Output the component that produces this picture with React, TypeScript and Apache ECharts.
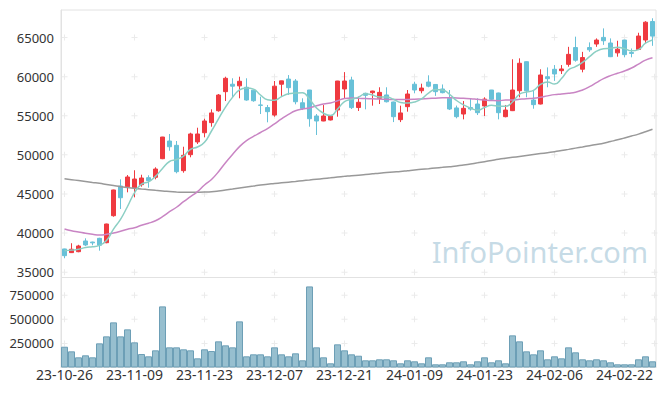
import { useEffect, useRef } from 'react';
import * as echarts from 'echarts';

const dates = [
  '23-10-26','23-10-27','23-10-30','23-10-31','23-11-01','23-11-02','23-11-03','23-11-06','23-11-07','23-11-08',
  '23-11-09','23-11-10','23-11-13','23-11-14','23-11-15','23-11-16','23-11-17','23-11-20','23-11-21','23-11-22',
  '23-11-23','23-11-24','23-11-27','23-11-28','23-11-29','23-11-30','23-12-01','23-12-04','23-12-05','23-12-06',
  '23-12-07','23-12-08','23-12-11','23-12-12','23-12-13','23-12-14','23-12-15','23-12-18','23-12-19','23-12-20',
  '23-12-21','23-12-22','23-12-26','23-12-27','23-12-28','24-01-02','24-01-03','24-01-04','24-01-05','24-01-08',
  '24-01-09','24-01-10','24-01-11','24-01-12','24-01-15','24-01-16','24-01-17','24-01-18','24-01-19','24-01-22',
  '24-01-23','24-01-24','24-01-25','24-01-26','24-01-29','24-01-30','24-01-31','24-02-01','24-02-02','24-02-05',
  '24-02-06','24-02-07','24-02-08','24-02-13','24-02-14','24-02-15','24-02-16','24-02-19','24-02-20','24-02-21',
  '24-02-22','24-02-23','24-02-26','24-02-27','24-02-28',
];

const opens = [
  37970,37500,37620,38990,38850,39330,38770,42220,46020,45930,
  45800,46190,47080,47130,49510,51770,51220,47980,50020,51650,
  52830,54120,55640,58080,59030,58820,58640,58270,56380,56050,
  55090,59030,59690,59440,56660,58290,54970,54330,54460,55730,
  58420,59570,56050,57870,57950,57230,57660,56760,54500,56160,
  59030,58200,59310,59000,58420,57230,56000,55220,56050,56500,
  56250,58290,57910,54880,55650,58200,61910,57010,56500,59990,
  60940,60760,61570,63720,60950,63720,64170,65020,64300,63040,
  64680,63090,63470,64680,67050,
];
const closes = [
  37110,37930,38350,38480,38750,38440,41160,45510,44520,47170,
  46910,47040,46700,48190,52280,51040,47850,49940,52670,52670,
  54330,55360,57650,59790,58780,59410,57010,56920,56330,55520,
  58780,59460,58590,56790,55940,54620,54330,54970,54970,59440,
  59440,56040,56720,57610,58160,57990,56790,54880,55360,57780,
  58290,58540,58780,58080,57950,55860,54880,55950,55860,55390,
  57130,57100,55390,55730,58290,61710,58200,56420,60210,59740,
  60340,60980,62850,62100,62440,63430,64680,64590,62550,63510,
  62810,62970,65190,66960,65180,
];
const lows = [
  36780,37450,37550,38350,38440,37750,38700,42090,43080,45210,
  44570,45930,45800,46870,49450,50530,47640,47720,49690,51390,
  52240,53600,55520,56880,57360,57230,56920,56790,55220,54160,
  54880,57540,57660,56460,55730,53600,52540,54300,54400,54880,
  57230,55860,55610,55820,56290,56500,56700,54190,54190,55520,
  57870,57870,58640,57540,57870,55730,54670,54540,55650,55090,
  54970,56950,54540,54800,55600,57360,57360,55900,56450,58640,
  59460,60340,61270,61910,60550,63170,63810,64060,62500,62550,
  62470,62470,63400,64250,63940,
];
const highs = [
  38000,38700,38500,39330,38900,39400,41200,45550,46870,47420,
  48030,47460,47390,48410,52300,52670,51770,51040,52830,53470,
  54620,55820,57780,59990,59790,59990,59790,58300,57440,56380,
  59440,59480,60200,59690,57230,58300,55220,56370,55000,59460,
  60580,59990,57440,57950,58200,58640,58640,56800,56290,58290,
  59350,59100,60170,59050,59000,58290,56300,56880,57230,57230,
  57360,58300,57950,56380,62220,62340,61950,58200,60940,61180,
  61480,61480,63810,65110,63170,64380,64890,66170,64890,64590,
  64700,63600,65610,67090,67460,
];
const volumes = [
  215800,168000,105800,126600,105800,251000,323600,468900,323600,396300,
  261400,140000,116200,178400,634900,209500,209500,188800,178400,95400,
  188800,171200,271800,230300,209500,479300,116200,136900,136900,116200,
  209500,136900,116200,147300,74700,842300,209500,105800,43600,240700,
  178400,136900,122400,74700,74700,85100,85100,74700,43600,74700,
  64300,43600,105800,33200,33200,53900,53900,64300,33200,64300,
  105800,53900,74700,43600,334000,271800,168000,136900,178400,85100,
  116200,95400,209500,157700,85100,74700,85100,74700,53900,33200,
  33200,33200,85100,116200,64300,
];
const ma5 = [
  37750,37820,37930,38150,38260,38430,39050,40500,41750,43400,
  45150,46250,46550,47250,48250,49150,49400,49850,50700,51000,
  51600,53050,54600,56100,57350,58300,58550,58400,57650,57050,
  56980,57450,57800,57900,57950,57100,56000,55320,55020,55850,
  56800,57100,57380,57820,57650,57400,57400,57100,56700,56620,
  56750,57150,57900,58350,58300,57750,56950,56400,55980,55700,
  56050,56330,56230,56200,56760,57750,58030,58250,59000,59300,
  59050,59750,60870,61280,61820,62550,63250,63570,63620,63750,
  63580,63300,63460,64270,64690,
];
const ma20 = [
  40520,40300,40140,39970,39840,39750,39840,40010,40230,40480,
  40690,41000,41250,41580,42090,42730,43300,44010,44650,45300,
  46150,46850,47850,49000,50050,51050,51820,52360,52860,53360,
  53970,54600,55170,55640,55850,56000,56270,56500,56640,56920,
  57220,57270,57230,57200,57170,57130,57100,57080,57080,57080,
  57100,57150,57200,57250,57300,57310,57280,57230,57180,57100,
  57020,56950,56920,57010,57010,57100,57180,57230,57360,57540,
  57700,57780,57870,58000,58290,58720,59230,59740,60130,60430,
  60720,61100,61610,62120,62420,
];
const ma120 = [
  46950,46830,46710,46590,46470,46360,46210,46070,45930,45820,
  45720,45630,45550,45460,45380,45320,45260,45210,45220,45230,
  45250,45290,45380,45500,45620,45750,45880,46010,46150,46250,
  46330,46420,46510,46600,46700,46790,46880,46970,47060,47160,
  47250,47340,47400,47480,47570,47660,47730,47800,47870,47970,
  48070,48150,48230,48320,48400,48490,48580,48700,48840,48980,
  49130,49280,49430,49560,49680,49800,49920,50040,50160,50280,
  50400,50550,50700,50860,51010,51170,51330,51480,51700,51920,
  52160,52400,52650,52950,53270,
];

const priceTicks = [35000, 40000, 45000, 50000, 55000, 60000, 65000];
const volumeTicks = [250000, 500000, 750000];
const crossColumns = [0, 10, 20, 30, 40, 50, 60, 70, 80];
const lastColumn = 84;

const UP = '#ef3a40';
const DOWN = '#68c1d8';
const CROSS = 'path://M2.5,0h1v6h-1zM0,2.5h6v1h-6z';

function crossData(cols: number[], ticks: number[]) {
  const out: number[][] = [];
  cols.forEach((c) => ticks.forEach((t) => out.push([c, t])));
  return out;
}

export default function App() {
  const ref = useRef<HTMLDivElement>(null);
  useEffect(() => {
    document.body.style.margin = '0';
    if (!ref.current) return;
    const chart = echarts.init(ref.current, undefined, { renderer: 'svg' });
    const font = 'Noto Sans';
    const crossStyle = { color: '#e6e6e6' };
    chart.setOption({
      animation: false,
      textStyle: { fontFamily: font },
      grid: [
        { left: 61, right: 9, top: 10, height: 267.5, show: true, borderColor: '#e2e2e2', borderWidth: 1 },
        { left: 61, right: 9, top: 277.5, height: 90, show: true, borderColor: '#e2e2e2', borderWidth: 1 },
      ],
      xAxis: [
        {
          type: 'category', data: dates, gridIndex: 0, boundaryGap: true,
          axisLine: { show: false }, axisTick: { show: false }, axisLabel: { show: false }, splitLine: { show: false },
        },
        {
          type: 'category', data: dates, gridIndex: 1, boundaryGap: true,
          axisLine: { show: true, lineStyle: { color: '#e2e2e2' } }, axisTick: { show: false },
          axisLabel: { interval: 9, color: '#333', fontSize: 14, margin: 0, fontFamily: font },
          splitLine: { show: false },
        },
      ],
      yAxis: [
        {
          type: 'value', gridIndex: 0, min: 34320, max: 68520, splitNumber: 7, scale: true,
          axisLine: { show: true, lineStyle: { color: '#e2e2e2' } }, axisTick: { show: false }, splitLine: { show: false },
          axisLabel: { showMinLabel: false, showMaxLabel: false, color: '#333', fontSize: 13, margin: 7, fontFamily: font, formatter: (v: number) => String(v) },
        },
        {
          type: 'value', gridIndex: 1, min: 0, max: 935000, interval: 250000,
          axisLine: { show: true, lineStyle: { color: '#e2e2e2' } }, axisTick: { show: false }, splitLine: { show: false },
          axisLabel: { showMinLabel: false, showMaxLabel: false, color: '#333', fontSize: 13, margin: 7, fontFamily: font, formatter: (v: number) => String(v) },
        },
      ],
      graphic: [
        {
          type: 'text', right: 17, top: 237, silent: true, z: 0,
          style: { text: 'InfoPointer.com', fontSize: 29, fontFamily: font, fill: 'rgba(160,195,213,0.6)' },
        },
      ],
      series: [
        {
          type: 'scatter', xAxisIndex: 0, yAxisIndex: 0, silent: true, z: 1,
          symbol: CROSS, symbolSize: 6, itemStyle: crossStyle,
          data: crossData(crossColumns, priceTicks),
        },
        {
          type: 'scatter', xAxisIndex: 0, yAxisIndex: 0, silent: true, z: 1,
          symbol: CROSS, symbolSize: 6, symbolOffset: [2, 0], itemStyle: crossStyle,
          data: crossData([lastColumn], priceTicks),
        },
        {
          type: 'scatter', xAxisIndex: 1, yAxisIndex: 1, silent: true, z: 1,
          symbol: CROSS, symbolSize: 6, itemStyle: crossStyle,
          data: crossData(crossColumns, volumeTicks),
        },
        {
          type: 'scatter', xAxisIndex: 1, yAxisIndex: 1, silent: true, z: 1,
          symbol: CROSS, symbolSize: 6, symbolOffset: [2, 0], itemStyle: crossStyle,
          data: crossData([lastColumn], volumeTicks),
        },
        {
          type: 'candlestick', xAxisIndex: 0, yAxisIndex: 0, barWidth: 5, z: 2,
          data: opens.map((o, i) => [o, closes[i], lows[i], highs[i]]),
          itemStyle: { color: UP, color0: DOWN, borderColor: UP, borderColor0: DOWN, borderWidth: 1 },
        },
        {
          type: 'line', xAxisIndex: 0, yAxisIndex: 0, data: ma120, showSymbol: false, smooth: true, z: 3,
          lineStyle: { color: '#999999', width: 1.5 },
        },
        {
          type: 'line', xAxisIndex: 0, yAxisIndex: 0, data: ma20, showSymbol: false, smooth: true, z: 3,
          lineStyle: { color: '#c985c4', width: 1.5 },
        },
        {
          type: 'line', xAxisIndex: 0, yAxisIndex: 0, data: ma5, showSymbol: false, smooth: true, z: 3,
          lineStyle: { color: '#8ccfc4', width: 1.5 },
        },
        {
          type: 'bar', xAxisIndex: 1, yAxisIndex: 1, data: volumes, barCategoryGap: '0%', z: 2,
          itemStyle: { color: '#97bfcf', borderColor: '#6d9fb6', borderWidth: 1 },
        },
      ],
    });
    return () => chart.dispose();
  }, []);
  return <div ref={ref} style={{ width: 665, height: 396, position: 'absolute', left: 0, top: 0 }} />;
}
